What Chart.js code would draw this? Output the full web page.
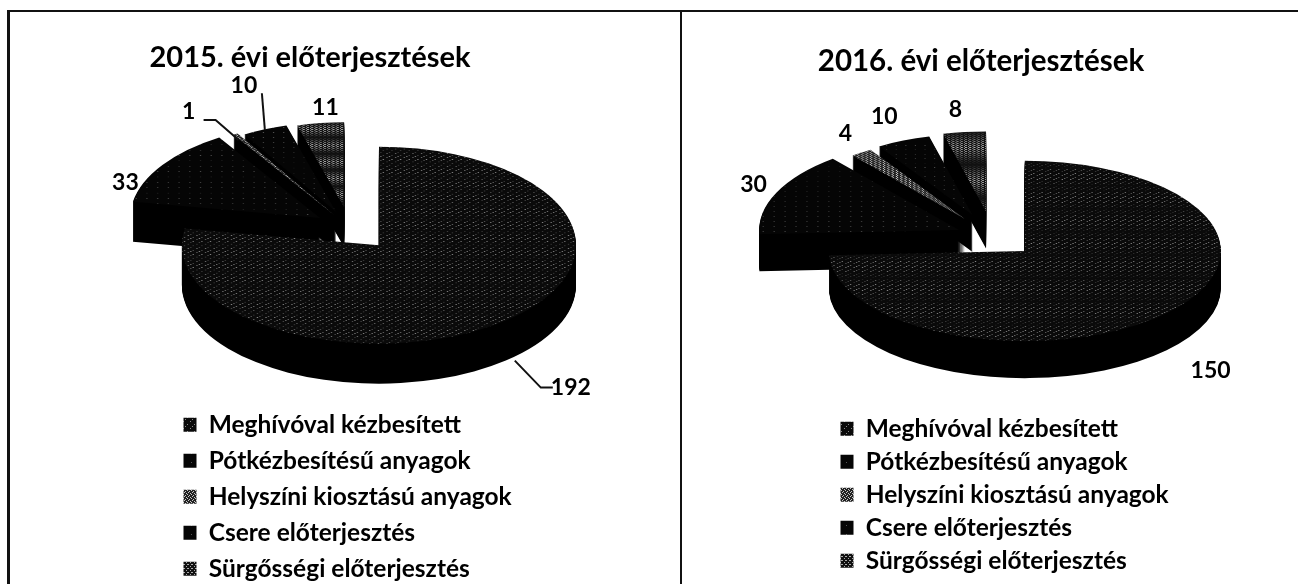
<!DOCTYPE html>
<html>
<head>
<meta charset="utf-8">
<title>Előterjesztések</title>
<script src="https://cdn.jsdelivr.net/npm/chart.js@4"></script>
<style>
  html, body { margin: 0; background: #fff; overflow: hidden; }
  #page { position: relative; width: 1298px; height: 584px; }
  canvas { position: absolute; top: 0; }
  .rule { position: absolute; background: #111; }
</style>
</head>
<body>
<div id="page">
  <div class="rule" style="left:7px;top:10px;width:1291px;height:2px"></div>
  <div class="rule" style="left:7px;top:10px;width:3px;height:574px"></div>
  <div class="rule" style="left:680px;top:10px;width:2px;height:574px"></div>
  <canvas id="chart2015" width="620" height="584" style="left:0"></canvas>
  <canvas id="chart2016" width="598" height="584" style="left:682px"></canvas>
</div>
<script>
const categories = ['Meghívóval kézbesített', 'Pótkézbesítésű anyagok', 'Helyszíni kiosztású anyagok', 'Csere előterjesztés', 'Sürgősségi előterjesztés'];
const values2015 = [192, 33, 1, 10, 11];
const values2016 = [150, 30, 4, 10, 8];
const title2015 = '2015. évi előterjesztések';
const title2016 = '2016. évi előterjesztések';

// small repeating tiles so the slices look like the scanned halftone
function tile(bg, fg, dots, size) {
  const c = document.createElement('canvas');
  c.width = c.height = size;
  const g = c.getContext('2d');
  g.fillStyle = bg;
  g.fillRect(0, 0, size, size);
  g.fillStyle = fg;
  dots.forEach(d => g.fillRect(d[0], d[1], 1, 1));
  return g.createPattern(c, 'repeat');
}
const dark = tile('#0a0a0a', '#8a8a8a', [[1, 1], [5, 4], [3, 6]], 7);
const solid = tile('#050505', '#555', [[2, 3]], 9);
const grey = tile('#222', '#c8c8c8', [[0, 0], [2, 1], [1, 3], [3, 2]], 4);
const greyDark = tile('#111', '#aaa', [[0, 0], [2, 2], [3, 0]], 4);
const sliceColors = [dark, solid, grey, solid, greyDark];

// draws one library arc flattened, pulled out along its own angle, dropped by k pixels
function drawFlat(ctx, arc, i, k, o) {
  const a = (arc.startAngle + arc.endAngle) / 2;
  const s = o.radius[i] / arc.outerRadius;
  ctx.save();
  ctx.translate(o.cx + Math.cos(a) * o.explode[i], o.cy + k + Math.sin(a) * o.explode[i] * o.flat);
  ctx.scale(s, s * o.flat);
  ctx.translate(-arc.x, -arc.y);
  arc.draw(ctx);
  ctx.restore();
}

// flattens the round pie into a tilted disc with a side wall, and adds value labels
const pie3d = {
  id: 'pie3d',
  afterLayout(chart, args, o) {
    chart.legend.left = o.legendX;
    chart.legend.right = o.legendX + 400;
    chart.legend.top = o.legendY;
  },
  beforeDatasetDraw(chart, args, o) {
    const ctx = chart.ctx;
    const arcs = args.meta.data;
    for (let i = arcs.length - 1; i >= 0; i--) {
      const arc = arcs[i];
      const top = arc.options;
      arc.options = Object.assign({}, top, { backgroundColor: '#000' });
      for (let k = o.depth; k > 0; k--) drawFlat(ctx, arc, i, k, o);
      arc.options = top;
      drawFlat(ctx, arc, i, 0, o);
    }
    return false;
  },
  afterDraw(chart, args, o) {
    const ctx = chart.ctx;
    const meta = chart.getDatasetMeta(0);
    ctx.save();
    ctx.fillStyle = '#000';
    ctx.strokeStyle = '#111';
    ctx.lineWidth = 2;
    ctx.font = 'bold ' + o.labelSize + 'px Lato';
    ctx.textAlign = 'center';
    ctx.textBaseline = 'middle';
    meta.data.forEach((arc, i) => {
      const a = (arc.startAngle + arc.endAngle) / 2;
      const r = o.radius[i] + o.explode[i];
      const x = o.cx + Math.cos(a) * r;
      const y = o.cy + Math.sin(a) * r * o.flat;
      ctx.fillText(chart.data.datasets[0].data[i], x + o.labelShift[i][0], y + o.labelShift[i][1]);
      const line = o.leaders[i];
      if (line) {
        ctx.beginPath();
        line.forEach((p, n) => n ? ctx.lineTo(x + p[0], y + p[1]) : ctx.moveTo(x + p[0], y + p[1]));
        ctx.stroke();
      }
    });
    ctx.restore();
  }
};

function pie(id, title, values, o) {
  return new Chart(document.getElementById(id), {
    type: 'pie',
    plugins: [pie3d],
    data: {
      labels: categories,
      datasets: [{ data: values, backgroundColor: sliceColors, borderWidth: 0 }]
    },
    options: {
      responsive: false,
      animation: false,
      layout: { padding: { left: 130, right: 130, top: o.titleTop, bottom: 0 } },
      plugins: {
        tooltip: { enabled: false },
        title: {
          display: true,
          text: title,
          color: '#000',
          font: { family: 'Lato', weight: 'bold', size: o.titleSize },
          padding: 0
        },
        legend: {
          position: 'bottom',
          align: 'start',
          labels: {
            color: '#000',
            font: { family: 'Lato', weight: 'bold', size: 24.5 },
            boxWidth: 13,
            boxHeight: 14,
            padding: o.legendGap
          }
        },
        pie3d: o
      }
    }
  });
}

pie('chart2015', title2015, values2015, {
  cx: 350, cy: 228, flat: 0.5, depth: 40,
  explode: [45, 36, 30, 35, 42],
  radius: [197, 190, 190, 180, 170],
  titleTop: 40, titleSize: 29,
  legendX: 172, legendY: 401, legendGap: 11.5, labelSize: 23,
  labelShift: [[65, 67], [-37, 18], [-47, -22], [-21, -44], [5, -15]],
  leaders: [[[9, 40], [35, 67], [47, 67]], null, [[-32, -14], [-20, -14], [3, 6]], [[-3, -36], [0, 1]], null]
});
pie('chart2016', title2016, values2016, {
  cx: 311, cy: 237, flat: 0.46, depth: 37,
  explode: [44, 37, 48, 52, 56],
  radius: [196, 200, 178, 176, 174],
  titleTop: 44, titleSize: 29.5,
  legendX: 150, legendY: 408, legendGap: 8.5, labelSize: 23,
  labelShift: [[44, 57], [-23, -8], [-16, -19], [-19, -24], [-9, -22]],
  leaders: [null, null, null, null, null]
});
</script>
</body>
</html>
